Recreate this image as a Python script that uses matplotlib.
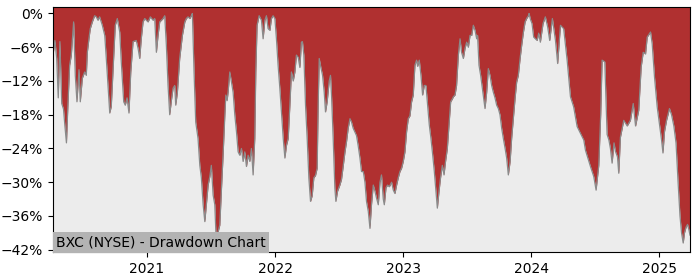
"""
Drawdown chart for BXC (NYSE): percentage below the running high, 2020-2025.
"""

import matplotlib

matplotlib.use("Agg")
import matplotlib.dates as mdates
import matplotlib.pyplot as plt
from matplotlib.ticker import FuncFormatter
import numpy as np
import pandas as pd


TITLE = "BXC (NYSE) - Drawdown Chart"

# observation times as decimal years
years = [
    2020.266, 2020.281, 2020.295, 2020.307, 2020.320, 2020.334, 2020.348, 2020.359,
    2020.371, 2020.383, 2020.396, 2020.409, 2020.427, 2020.440, 2020.453, 2020.469,
    2020.479, 2020.495, 2020.513, 2020.526, 2020.534, 2020.547, 2020.557, 2020.573,
    2020.591, 2020.604, 2020.617, 2020.630, 2020.651, 2020.670, 2020.682, 2020.695,
    2020.709, 2020.721, 2020.734, 2020.752, 2020.768, 2020.787, 2020.799, 2020.818,
    2020.830, 2020.844, 2020.859, 2020.873, 2020.891, 2020.916, 2020.930, 2020.943,
    2020.955, 2020.969, 2020.982, 2021.008, 2021.026, 2021.047, 2021.060, 2021.073,
    2021.086, 2021.099, 2021.125, 2021.138, 2021.151, 2021.164, 2021.177, 2021.190,
    2021.203, 2021.216, 2021.224, 2021.237, 2021.255, 2021.276, 2021.295, 2021.307,
    2021.320, 2021.334, 2021.346, 2021.354, 2021.367, 2021.380, 2021.398, 2021.412,
    2021.424, 2021.438, 2021.451, 2021.463, 2021.477, 2021.490, 2021.502, 2021.516,
    2021.529, 2021.541, 2021.555, 2021.568, 2021.580, 2021.594, 2021.607, 2021.615,
    2021.625, 2021.633, 2021.646, 2021.659, 2021.672, 2021.685, 2021.698, 2021.711,
    2021.724, 2021.737, 2021.750, 2021.763, 2021.776, 2021.789, 2021.802, 2021.815,
    2021.828, 2021.841, 2021.849, 2021.859, 2021.875, 2021.893, 2021.906, 2021.920,
    2021.932, 2021.945, 2021.959, 2021.971, 2021.984, 2021.998, 2022.010, 2022.023,
    2022.037, 2022.049, 2022.063, 2022.076, 2022.088, 2022.102, 2022.115, 2022.127,
    2022.141, 2022.154, 2022.166, 2022.180, 2022.193, 2022.205, 2022.213, 2022.224,
    2022.237, 2022.250, 2022.263, 2022.276, 2022.289, 2022.302, 2022.315, 2022.328,
    2022.336, 2022.344, 2022.357, 2022.370, 2022.383, 2022.393, 2022.406, 2022.422,
    2022.432, 2022.440, 2022.453, 2022.466, 2022.474, 2022.487, 2022.505, 2022.518,
    2022.531, 2022.545, 2022.557, 2022.570, 2022.584, 2022.596, 2022.609, 2022.623,
    2022.635, 2022.648, 2022.662, 2022.674, 2022.688, 2022.701, 2022.713, 2022.727,
    2022.740, 2022.752, 2022.766, 2022.779, 2022.791, 2022.805, 2022.818, 2022.830,
    2022.844, 2022.852, 2022.865, 2022.877, 2022.891, 2022.909, 2022.922, 2022.935,
    2022.948, 2022.961, 2022.974, 2022.987, 2023.000, 2023.013, 2023.026, 2023.039,
    2023.052, 2023.065, 2023.078, 2023.091, 2023.104, 2023.112, 2023.125, 2023.138,
    2023.151, 2023.164, 2023.177, 2023.190, 2023.203, 2023.216, 2023.229, 2023.242,
    2023.255, 2023.266, 2023.279, 2023.291, 2023.305, 2023.318, 2023.330, 2023.344,
    2023.357, 2023.370, 2023.383, 2023.391, 2023.404, 2023.416, 2023.430, 2023.443,
    2023.455, 2023.469, 2023.482, 2023.495, 2023.508, 2023.521, 2023.534, 2023.547,
    2023.560, 2023.573, 2023.580, 2023.591, 2023.604, 2023.617, 2023.630, 2023.638,
    2023.651, 2023.664, 2023.677, 2023.690, 2023.703, 2023.716, 2023.729, 2023.742,
    2023.755, 2023.768, 2023.781, 2023.795, 2023.807, 2023.820, 2023.834, 2023.846,
    2023.859, 2023.873, 2023.885, 2023.898, 2023.912, 2023.924, 2023.938, 2023.951,
    2023.963, 2023.977, 2023.982, 2023.992, 2024.005, 2024.018, 2024.045, 2024.057,
    2024.070, 2024.091, 2024.109, 2024.127, 2024.143, 2024.164, 2024.188, 2024.205,
    2024.227, 2024.252, 2024.279, 2024.305, 2024.330, 2024.357, 2024.383, 2024.409,
    2024.422, 2024.438, 2024.461, 2024.487, 2024.505, 2024.526, 2024.541, 2024.552,
    2024.573, 2024.591, 2024.605, 2024.617, 2024.630, 2024.645, 2024.656, 2024.672,
    2024.682, 2024.695, 2024.721, 2024.748, 2024.773, 2024.795, 2024.813, 2024.838,
    2024.857, 2024.873, 2024.891, 2024.904, 2024.930, 2024.943, 2024.961, 2024.982,
    2025.002, 2025.016, 2025.027, 2025.039, 2025.055, 2025.078, 2025.094, 2025.112,
    2025.129, 2025.145, 2025.160, 2025.172, 2025.185, 2025.195, 2025.207, 2025.219,
    2025.230, 2025.238,
]

# percent below running high
drawdown_pct = [
    -7.4, -4.8, -8.0, -15.0, -5.0, -16.0, -17.0, -20.0,
    -23.0, -16.0, -9.2, -7.4, -1.5, -11.0, -15.7, -10.0,
    -15.7, -11.5, -10.4, -11.0, -6.9, -4.4, -2.7, -1.5,
    -0.4, -0.6, -1.2, -0.6, -2.1, -3.9, -8.0, -12.8,
    -17.7, -16.5, -10.4, -2.1, -0.9, -3.3, -8.6, -15.7,
    -16.3, -15.0, -17.7, -10.4, -5.0, -4.8, -6.2, -8.0,
    -4.5, -1.5, -0.9, -1.5, -0.6, -1.2, -0.9, -6.9,
    -3.9, -1.5, -0.9, -0.4, -5.7, -12.8, -18.0, -15.5,
    -13.3, -12.8, -16.3, -14.0, -8.0, -3.9, -1.5, -0.9,
    -0.6, -0.9, -0.4, 0.0, -10.4, -19.3, -22.2, -27.0,
    -29.2, -34.0, -37.0, -34.0, -30.5, -29.0, -27.0, -32.3,
    -34.0, -41.1, -38.8, -37.6, -31.7, -25.2, -18.0, -14.5,
    -15.5, -13.9, -10.4, -12.2, -14.0, -18.0, -21.0, -24.6,
    -25.2, -24.0, -26.3, -24.6, -27.2, -25.2, -26.3, -24.0,
    -28.7, -22.2, -10.4, -2.1, -0.4, -1.2, -4.5, -1.2,
    -0.4, -2.7, -3.0, -0.9, -0.4, -0.9, -4.5, -9.2,
    -13.4, -17.5, -22.2, -25.7, -23.5, -22.2, -16.3, -10.4,
    -12.0, -10.4, -7.4, -7.8, -9.6, -5.1, -5.0, -7.4,
    -16.3, -22.2, -29.2, -33.4, -32.4, -29.2, -28.8, -27.5,
    -16.0, -8.0, -9.6, -11.0, -14.0, -17.5, -15.7, -12.0,
    -11.0, -14.5, -22.2, -31.0, -33.4, -31.6, -30.5, -29.5,
    -27.2, -24.6, -22.8, -20.4, -18.7, -19.3, -20.4, -21.1,
    -21.7, -23.5, -25.7, -28.1, -28.1, -30.0, -33.4, -35.2,
    -38.2, -34.0, -30.5, -31.6, -32.8, -34.0, -30.0, -28.7,
    -33.0, -34.0, -31.0, -30.5, -30.8, -30.0, -31.4, -32.0,
    -30.5, -29.2, -28.1, -27.5, -26.3, -24.6, -21.0, -18.7,
    -18.2, -15.7, -14.5, -9.2, -8.3, -9.4, -8.3, -11.0,
    -14.5, -12.8, -12.8, -16.3, -19.8, -22.2, -25.0, -28.0,
    -31.6, -34.6, -31.6, -29.2, -27.0, -28.7, -26.3, -24.0,
    -19.8, -15.7, -15.2, -14.8, -14.5, -12.8, -7.4, -4.5,
    -6.9, -8.0, -6.2, -5.1, -6.0, -3.9, -3.9, -2.1,
    -3.0, -4.5, -3.9, -9.2, -11.0, -13.3, -15.7, -16.9,
    -14.0, -9.8, -11.0, -12.8, -14.0, -15.0, -16.3, -16.9,
    -18.0, -20.4, -22.2, -24.0, -25.7, -28.7, -26.3, -22.2,
    -18.7, -15.0, -12.2, -11.0, -8.0, -5.7, -3.3, -1.5,
    -0.9, -0.4, 0.0, -1.0, -1.8, -4.2, -4.8, -3.5,
    -5.1, -1.8, -0.6, -2.4, -4.8, -0.9, -4.8, -8.9,
    -2.1, -2.7, -8.3, -14.8, -16.6, -20.1, -21.3, -22.5,
    -24.3, -25.5, -27.2, -29.0, -31.4, -27.0, -18.0, -8.3,
    -8.6, -21.5, -22.5, -24.0, -26.6, -23.0, -24.5, -25.5,
    -28.4, -22.0, -19.0, -20.0, -19.0, -16.0, -20.0, -17.2,
    -9.5, -6.9, -7.2, -4.2, -3.3, -5.4, -11.3, -16.6,
    -20.0, -22.5, -24.8, -21.0, -19.0, -16.9, -18.0, -20.0,
    -23.0, -30.0, -36.0, -39.0, -40.8, -39.0, -38.0, -37.5,
    -38.5, -39.4,
]

Y_TICKS = [0, -6, -12, -18, -24, -30, -36, -42]
Y_LIMITS = (-42.4, 1.15)

FILL_COLOR = "#b03030"
EDGE_COLOR = "#8a8a8a"
BG_COLOR = "#ececec"


def pct_label(value, _pos=None):
    return f"{value:.0f}%".replace("-", "\u2212")


def main():
    yrs = np.array(years)
    dates = pd.Timestamp("2021-01-01") + pd.to_timedelta((yrs - 2021) * 365.25, unit="D")
    dd = np.array(drawdown_pct)

    fig = plt.figure(figsize=(7.0, 2.8), dpi=100)
    ax = fig.add_axes([0.0757, 0.1, 0.91, 0.875])
    ax.set_facecolor(BG_COLOR)

    # red fills everything above the curve, up to the top of the axes
    ax.fill_between(dates, dd, Y_LIMITS[1], color=FILL_COLOR, linewidth=0)
    ax.plot(dates, dd, color=EDGE_COLOR, linewidth=0.9)

    ax.set_xlim(dates[0], dates[-1])
    ax.set_ylim(*Y_LIMITS)
    ax.set_yticks(Y_TICKS)
    ax.yaxis.set_major_formatter(FuncFormatter(pct_label))
    ax.xaxis.set_major_locator(mdates.YearLocator())
    ax.xaxis.set_major_formatter(mdates.DateFormatter("%Y"))
    ax.tick_params(labelsize=10)

    ax.text(
        0.005,
        0.012,
        TITLE,
        transform=ax.transAxes,
        fontsize=10,
        ha="left",
        va="bottom",
        bbox=dict(facecolor="#b3b3b3", edgecolor="none", pad=2.5),
    )

    fig.savefig("out.png", dpi=100)
    plt.close(fig)


if __name__ == "__main__":
    main()
